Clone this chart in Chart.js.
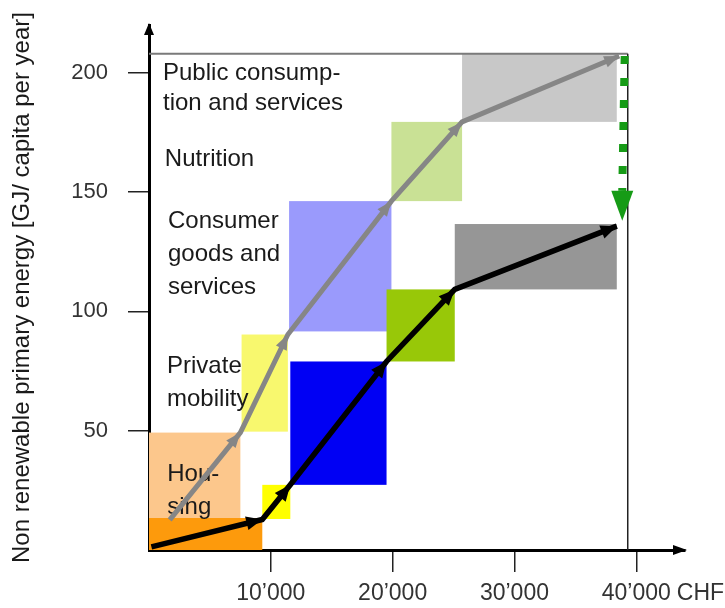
<!DOCTYPE html>
<html>
<head>
<meta charset="utf-8">
<script src="https://cdn.jsdelivr.net/npm/chart.js@4.4.1/dist/chart.umd.min.js"></script>
<style>
  html, body { margin: 0; padding: 0; background: #fff; }
  #wrap { width: 725px; height: 608px; }
</style>
</head>
<body>
<div id="wrap"><canvas id="chart"></canvas></div>
<script>
// consumption categories, bottom to top
const categories = ['Housing', 'Private mobility', 'Consumer goods and services', 'Nutrition', 'Public consumption and services'];
const catText = [['Hou-', 'sing'], ['Private', 'mobility'], ['Consumer', 'goods and', 'services'], ['Nutrition'], ['Public consump-', 'tion and services']];

// upper (grey) boxes: income [CHF] and energy [GJ] ranges
const greyX0 = [0, 7600, 11500, 19900, 25700];
const greyX1 = [7500, 11400, 19900, 25700, 38400];
const greyY0 = [0, 49.6, 91.6, 146.2, 179.4];
const greyY1 = [49.2, 90.3, 146.2, 179.4, 208];

// lower (black) boxes
const blackX0 = [0, 9300, 11600, 19500, 25100];
const blackX1 = [9300, 11600, 19500, 25100, 38400];
const blackY0 = [0, 13, 27.3, 79, 109.2];
const blackY1 = [13.4, 27.3, 79, 109.2, 136.6];

// arrow paths
const greyPathX = [1700, 7500, 11400, 19900, 25700, 38600];
const greyPathY = [12.6, 49.2, 90.3, 146.2, 179.4, 207];
const blackPathX = [200, 9300, 11600, 19500, 25100, 38400];
const blackPathY = [1.3, 12.8, 27.3, 79, 109.2, 135.7];

// reduction arrow (dashed green), head is added below the last point
const reduceX = [39050, 38850];
const reduceY = [207, 150.5];

// frame lines
const limitX = 39300;
const limitY = 208;

const xTicks = [10000, 20000, 30000, 40000];
const yTicks = [50, 100, 150, 200];

// ---- styles ----
const greyColors = ['#fcc78c', '#f8f86e', '#9a9afc', '#c9e195', '#c8c8c8'];
const blackColors = ['#fd9a0c', '#ffff00', '#0000f4', '#98c808', '#969696'];
const labelPos = [[1500, 31.5], [1480, 76.9], [1560, 137.8], [1300, 163.9], [1150, 199.6]];
const FONT = "'Liberation Sans', Arial, sans-serif";

function pts(xs, ys) {
  return xs.map((x, i) => ({ x: x, y: ys[i] }));
}

function fmt(v) {
  return v >= 1000 ? Math.floor(v / 1000) + '\u2019' + String(v % 1000).padStart(3, '0') : String(v);
}

// filled arrow head, tip at (x1, y1) pointing away from (x0, y0)
function head(ctx, x0, y0, x1, y1, len, half, color) {
  const a = Math.atan2(y1 - y0, x1 - x0);
  ctx.save();
  ctx.translate(x1, y1);
  ctx.rotate(a);
  ctx.fillStyle = color;
  ctx.beginPath();
  ctx.moveTo(0, 0);
  ctx.lineTo(-len, -half);
  ctx.lineTo(-len, half);
  ctx.closePath();
  ctx.fill();
  ctx.restore();
}

const paper = {
  id: 'paper',
  beforeDatasetsDraw(chart) {
    const ctx = chart.ctx, x = chart.scales.x, y = chart.scales.y;
    ctx.save();
    for (let i = 0; i < categories.length; i++) {
      ctx.fillStyle = greyColors[i];
      ctx.fillRect(x.getPixelForValue(greyX0[i]), y.getPixelForValue(greyY1[i]),
        x.getPixelForValue(greyX1[i]) - x.getPixelForValue(greyX0[i]),
        y.getPixelForValue(greyY0[i]) - y.getPixelForValue(greyY1[i]));
    }
    for (let i = 0; i < categories.length; i++) {
      ctx.fillStyle = blackColors[i];
      ctx.fillRect(x.getPixelForValue(blackX0[i]), y.getPixelForValue(blackY1[i]),
        x.getPixelForValue(blackX1[i]) - x.getPixelForValue(blackX0[i]),
        y.getPixelForValue(blackY0[i]) - y.getPixelForValue(blackY1[i]));
    }
    // top line and right limit
    ctx.strokeStyle = '#7a7a7a';
    ctx.lineWidth = 2;
    ctx.beginPath();
    ctx.moveTo(x.getPixelForValue(0), y.getPixelForValue(limitY));
    ctx.lineTo(x.getPixelForValue(limitX), y.getPixelForValue(limitY));
    ctx.stroke();
    ctx.strokeStyle = '#222';
    ctx.lineWidth = 1.5;
    ctx.beginPath();
    ctx.moveTo(x.getPixelForValue(limitX), y.getPixelForValue(limitY));
    ctx.lineTo(x.getPixelForValue(limitX), y.getPixelForValue(0));
    ctx.stroke();
    // category names
    ctx.fillStyle = '#1a1a1a';
    ctx.font = '24px ' + FONT;
    ctx.textBaseline = 'middle';
    ctx.textAlign = 'left';
    catText.forEach((lines, i) => {
      const px = x.getPixelForValue(labelPos[i][0]);
      const py = y.getPixelForValue(labelPos[i][1]);
      const lh = i === 4 ? 30 : 33;
      lines.forEach((t, j) => ctx.fillText(t, px, py + j * lh));
    });
    ctx.restore();
  },
  afterDatasetsDraw(chart) {
    const ctx = chart.ctx, x = chart.scales.x, y = chart.scales.y;
    const paths = [[greyPathX, greyPathY, '#868686', 15, 6], [blackPathX, blackPathY, '#000', 16, 7]];
    paths.forEach(p => {
      for (let i = 1; i < p[0].length; i++) {
        head(ctx, x.getPixelForValue(p[0][i - 1]), y.getPixelForValue(p[1][i - 1]),
          x.getPixelForValue(p[0][i]), y.getPixelForValue(p[1][i]), p[3], p[4], p[2]);
      }
    });
    // green head starts at the end of the dashed line
    const n = reduceX.length - 1;
    const bx = x.getPixelForValue(reduceX[n]), by = y.getPixelForValue(reduceY[n]);
    head(ctx, bx, by - 1, bx, by + 30, 30, 11, '#169b16');
  },
  afterDraw(chart) {
    const ctx = chart.ctx, a = chart.chartArea;
    // axis arrow heads
    head(ctx, a.left, a.bottom, a.left, a.top - 2, 12, 5, '#000');
    head(ctx, a.left, a.bottom, a.right + 2, a.bottom, 14, 5, '#000');
    // currency unit after last tick label
    ctx.save();
    ctx.font = '23px ' + FONT;
    ctx.fillStyle = '#333';
    ctx.textBaseline = 'middle';
    const last = xTicks[xTicks.length - 1];
    const w = ctx.measureText(fmt(last)).width;
    ctx.fillText('CHF', chart.scales.x.getPixelForValue(last) + w / 2 + 6, 594);
    ctx.restore();
  }
};

new Chart(document.getElementById('chart'), {
  type: 'line',
  data: {
    datasets: [
      { label: 'reduction', data: pts(reduceX, reduceY), borderColor: '#169b16', borderWidth: 8, borderDash: [8, 14] },
      { label: 'upper', data: pts(greyPathX, greyPathY), borderColor: '#868686', borderWidth: 5 },
      { label: 'lower', data: pts(blackPathX, blackPathY), borderColor: '#000', borderWidth: 5.5 }
    ]
  },
  options: {
    responsive: true,
    maintainAspectRatio: false,
    animation: false,
    layout: { padding: { left: 0, top: 25, right: 40, bottom: 0 } },
    elements: { point: { radius: 0 }, line: { tension: 0 } },
    plugins: { legend: { display: false }, tooltip: { enabled: false } },
    scales: {
      x: {
        type: 'linear', min: 0, max: 44000,
        afterBuildTicks: s => { s.ticks = xTicks.map(v => ({ value: v })); },
        afterFit: s => { s.height = 58; s.paddingLeft = 0; s.paddingRight = 0; },
        border: { display: true, color: '#000', width: 3 },
        grid: { drawOnChartArea: false, drawTicks: true, tickLength: 22, color: '#222', lineWidth: 1.5 },
        ticks: { color: '#333', font: { family: FONT, size: 23 }, padding: 8, maxRotation: 0, callback: v => fmt(v) }
      },
      y: {
        type: 'linear', min: 0, max: 220,
        afterBuildTicks: s => { s.ticks = yTicks.map(v => ({ value: v })); },
        afterFit: s => { s.width = 149; s.paddingTop = 0; s.paddingBottom = 0; },
        border: { display: true, color: '#000', width: 3 },
        grid: { drawOnChartArea: false, drawTicks: true, tickLength: 21, color: '#222', lineWidth: 1.5 },
        ticks: { color: '#333', font: { family: FONT, size: 22 }, padding: 20, callback: v => fmt(v) },
        title: { display: true, text: 'Non renewable primary energy [GJ/ capita per year]', color: '#1a1a1a', font: { family: FONT, size: 24 }, padding: { top: 8, bottom: 0 } }
      }
    }
  },
  plugins: [paper]
});
</script>
</body>
</html>
